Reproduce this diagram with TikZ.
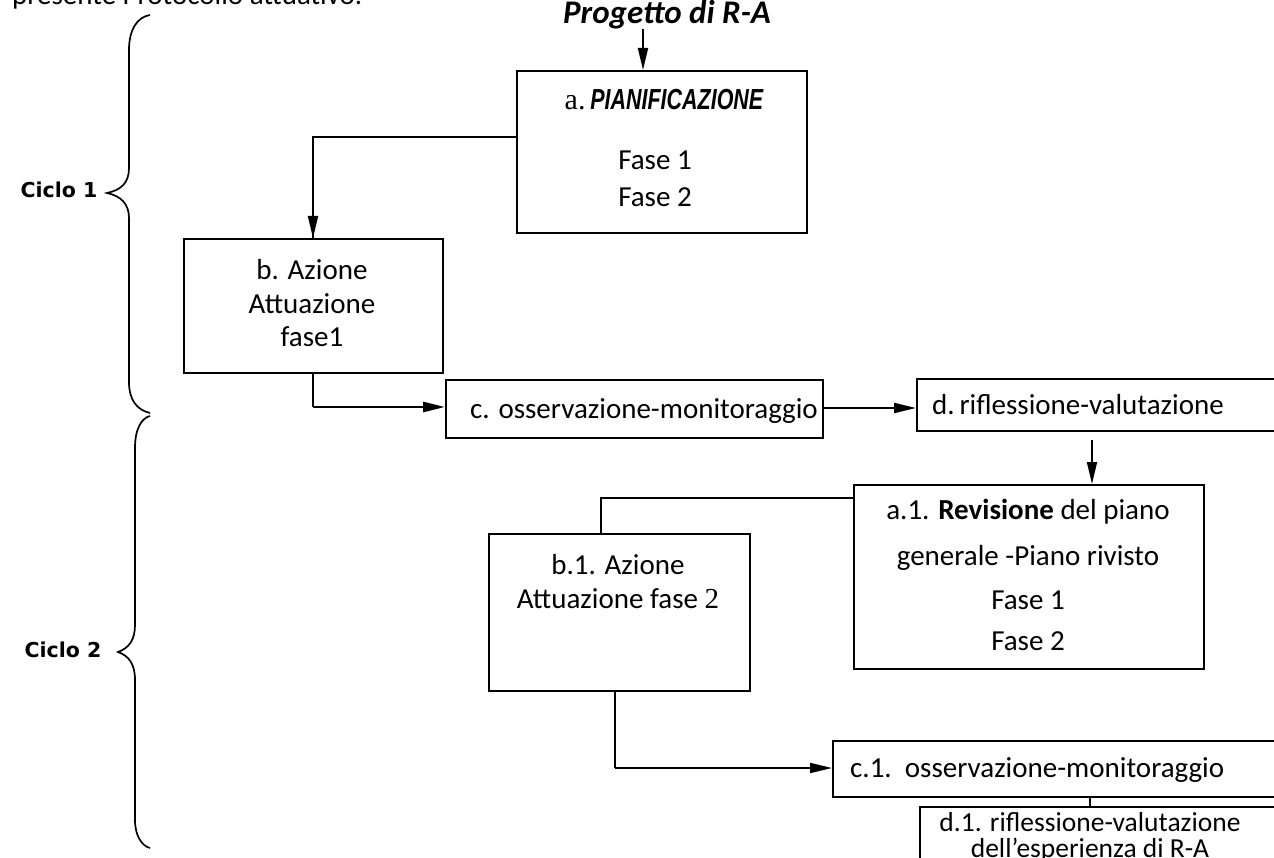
\documentclass[tikz,border=0pt]{standalone}
\usepackage{fontspec}
\setmainfont{Carlito}
\newfontfamily\serifrm{Liberation Serif}
\newfontfamily\narrowbi[FakeStretch=0.74]{Liberation Sans}
\newfontfamily\cyclefont{DejaVu Sans}
\usetikzlibrary{arrows.meta}
\begin{document}
\begin{tikzpicture}[x=1pt,y=-1pt,
  box/.style={draw, line width=1.8pt, inner sep=0pt, anchor=north west},
  txt/.style={inner sep=0pt, anchor=base, font=\fontsize{29}{34}\selectfont},
  ltxt/.style={inner sep=0pt, anchor=base west, font=\fontsize{29}{34}\selectfont},
  conn/.style={line width=1.8pt},
  thin/.style={line width=1.1pt},
  arr/.style={line width=1.8pt, -{Triangle[length=22pt,width=10pt]}},
  brace/.style={line width=1.7pt},
  cyc/.style={inner sep=0pt, font=\cyclefont\bfseries\fontsize{20.5}{24}\selectfont},
]
\useasboundingbox (0,0) rectangle (1274,858);
\clip (0,0) rectangle (1274,858);

% top cut text
\node[ltxt] (toptext) at (12,5) {presente Protocollo attuativo.};

% braces
\draw[brace] (150,15) .. controls (137,17) and (129,30) .. (129,50) -- (129,168)
  .. controls (129,183) and (121,190) .. (107,193)
  .. controls (121,196) and (129,204) .. (129,218) -- (129,382)
  .. controls (129,400) and (137,410) .. (150,413);
\draw[brace] (150,416) .. controls (142,418) and (135,428) .. (135,448) -- (135,625)
  .. controls (135,640) and (129,648) .. (118,652)
  .. controls (129,656) and (135,664) .. (135,680) -- (135,820)
  .. controls (135,836) and (142,846) .. (150,848);
\node[cyc] (c1lab) at (59,190) {Ciclo 1};
\node[cyc] (c2lab) at (63,650) {Ciclo 2};

% title
\node[inner sep=0pt, anchor=base, font=\bfseries\itshape\fontsize{33}{38}\selectfont] (proj) at (667,24) {Progetto di R-A};

% boxes
\node[box, minimum width=290, minimum height=162] (a) at (516,70) {};
\node[box, minimum width=259, minimum height=134] (b) at (183,238) {};
\node[box, minimum width=377, minimum height=58] (c) at (445,379) {};
\node[box, minimum width=380, minimum height=52] (d) at (916,378) {};
\node[box, minimum width=350, minimum height=184] (a1) at (853,484) {};
\node[box, minimum width=261, minimum height=157] (b1) at (488,533) {};
\node[box, minimum width=460, minimum height=56] (c1) at (832,740) {};
\node[box, minimum width=380, minimum height=70] (d1) at (919,806) {};

% texts
\node[txt] (ta1) at (664,110) {{\serifrm\fontsize{30}{34}\selectfont a.}\,{\narrowbi\bfseries\itshape PIANIFICAZIONE}};
\node[txt] (ta2) at (655,170) {Fase 1};
\node[txt] (ta3) at (655,207) {Fase 2};
\node[txt] (tb1) at (312,280) {b. Azione};
\node[txt] (tb2) at (312,314) {Attuazione};
\node[txt] (tb3) at (312,347) {fase1};
\node[ltxt] (tc) at (470,418) {c. osservazione-monitoraggio};
\node[ltxt] (td) at (932,414) {d.\,riflessione-valutazione};
\node[txt] (ta11) at (1028,519) {a.1. \textbf{Revisione} del piano};
\node[txt] (ta12) at (1028,565) {generale -Piano rivisto};
\node[txt] (ta13) at (1028,609) {Fase 1};
\node[txt] (ta14) at (1028,650) {Fase 2};
\node[txt] (tb11) at (618,574) {b.1. Azione};
\node[txt] (tb12) at (618,608) {Attuazione fase {\serifrm 2}};
\node[ltxt] (tc1) at (850,777) {c.1.\ \ osservazione-monitoraggio};
\node[txt, font=\fontsize{27.5}{32}\selectfont] (td11) at (1090,831) {d.1. riflessione-valutazione};
\node[txt, font=\fontsize{27.5}{32}\selectfont] (td12) at (1090,857) {dell’esperienza di R-A};

% connectors
\coordinate (pa) at (643,0);
\draw[arr] (pa |- 0,29) -- (pa |- a.north);
\coordinate (ab) at (313,137);
\draw[conn] (a.west |- ab) -- (ab) -- (b.north -| ab);
\draw[arr] (ab) -- (b.north -| ab);
\coordinate (bc) at (313,407);
\draw[thin] (b.south -| bc) -- (bc);
\draw[arr, line width=2.6pt] (bc) -- (c.west |- bc);
\coordinate (cd) at (0,408);
\draw[arr, line width=2.2pt] (c.east |- cd) -- (d.west |- cd);
\coordinate (da) at (1092,440);
\draw[arr] (da) -- (a1.north -| da);
\coordinate (ab1) at (601,498);
\draw[conn] (a1.west |- ab1) -- (ab1) -- (b1.north -| ab1);
\coordinate (bc1) at (615,768);
\draw[conn] (b1.south -| bc1) -- (bc1);
\draw[arr] (bc1) -- (c1.west |- bc1);
\coordinate (cd1) at (1090,0);
\draw[thin] (c1.south -| cd1) -- (d1.north -| cd1);
\end{tikzpicture}
\end{document}
